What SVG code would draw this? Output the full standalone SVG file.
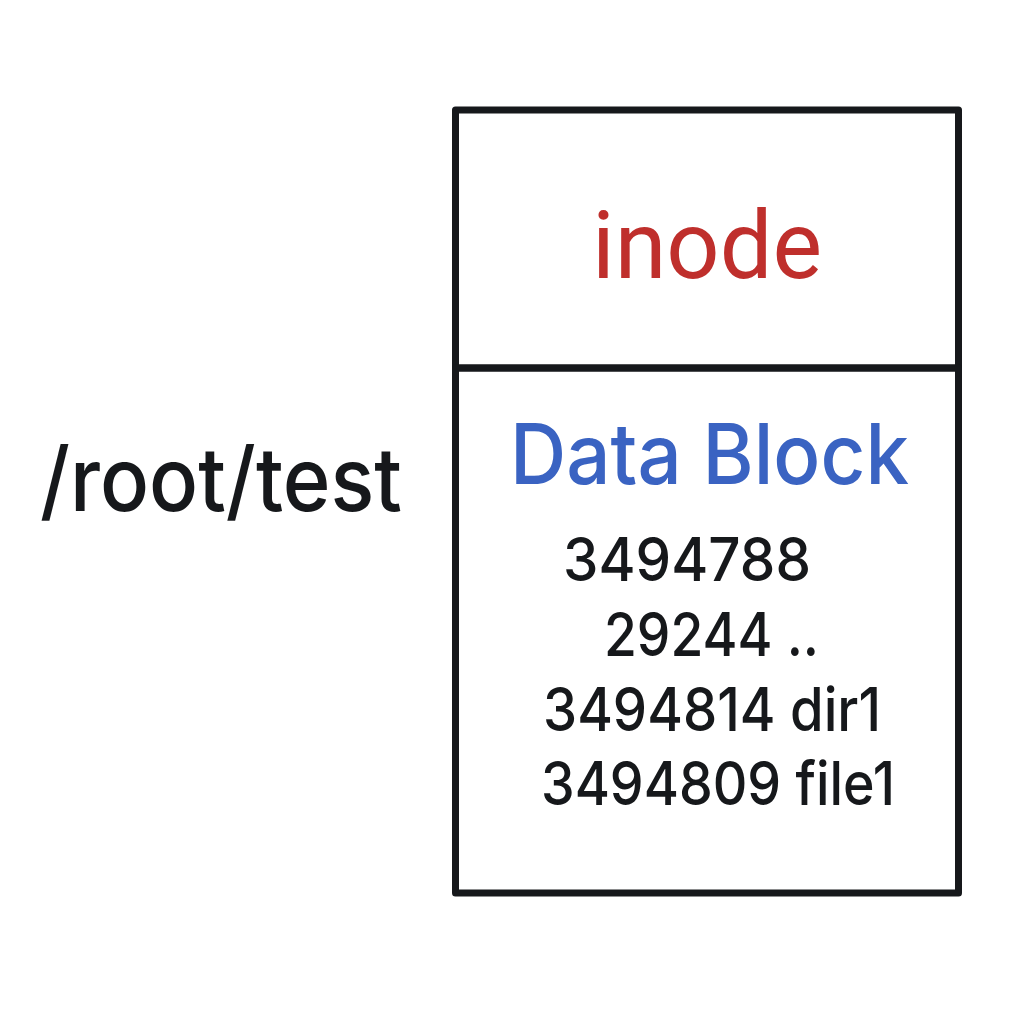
<svg xmlns="http://www.w3.org/2000/svg" width="1026" height="1024" viewBox="0 0 1026 1024">
<style>
.box{fill:none;stroke:#16181b;stroke-width:7;stroke-linejoin:round}
.t{font-family:Inter,"Liberation Sans",Arial,sans-serif;fill:#16181b;font-weight:500}
.inode{font-family:Roboto,"Liberation Sans",sans-serif;fill:#BF2F2C;font-size:95px}
.db{font-family:Inter,"Liberation Sans",Arial,sans-serif;fill:#3A63C2;font-size:84px;font-weight:500}
.num{font-size:60px}
</style>
<rect width="1026" height="1024" fill="#ffffff"/>
<g id="path-label">
<text class="t" x="40" y="511" font-size="88" textLength="362" lengthAdjust="spacingAndGlyphs">/root/test</text>
</g>
<g id="inode-node">
<rect class="box" x="455.5" y="110" width="503" height="258"/>
<text class="inode" x="592" y="278" textLength="230" lengthAdjust="spacingAndGlyphs">inode</text>
</g>
<g id="datablock-node">
<rect class="box" x="455.5" y="368" width="503" height="525"/>
<text class="db" x="510" y="484" textLength="399" lengthAdjust="spacingAndGlyphs">Data Block</text>
<text class="t num" x="563" y="581" textLength="248" lengthAdjust="spacingAndGlyphs">3494788</text>
<text class="t num" x="604" y="656" textLength="215" lengthAdjust="spacingAndGlyphs">29244 ..</text>
<text class="t num" x="543" y="731" textLength="338" lengthAdjust="spacingAndGlyphs">3494814 dir1</text>
<text class="t num" x="541" y="805" textLength="354" lengthAdjust="spacingAndGlyphs">3494809 file1</text>
</g>
<g id="connectors"></g>
</svg>
